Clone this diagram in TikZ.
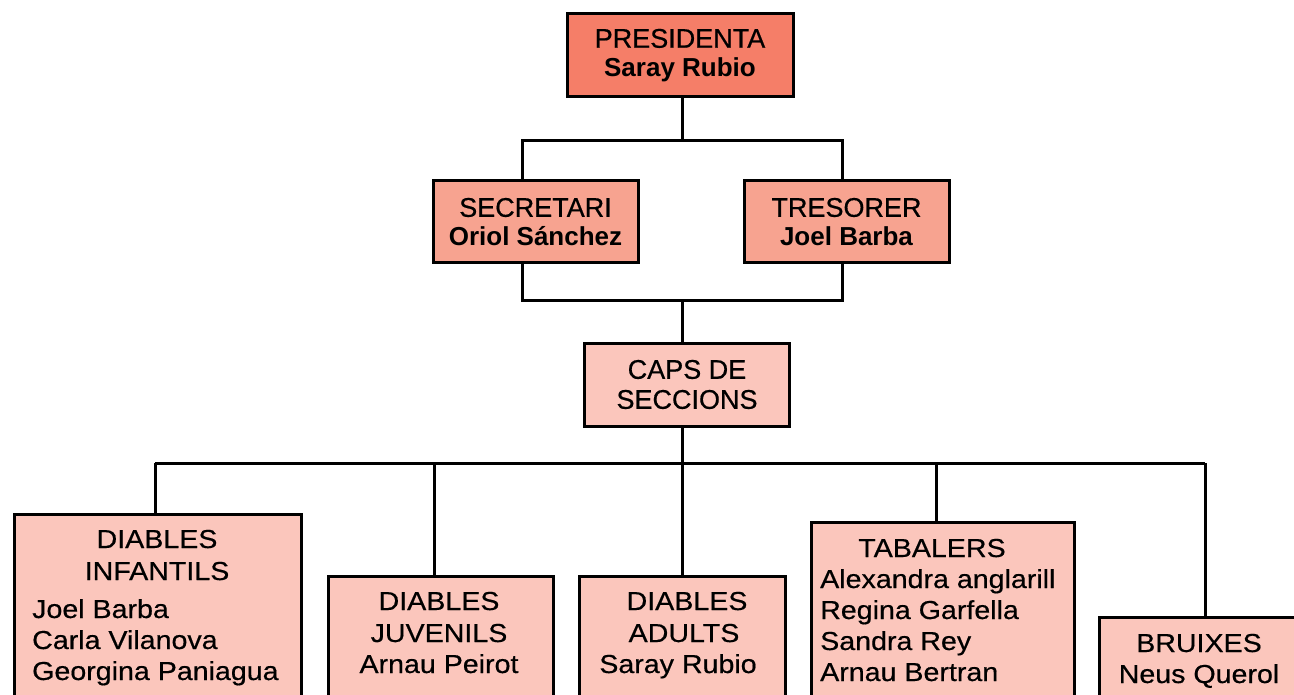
\documentclass[tikz,border=0pt]{standalone}
\usepackage{fontspec}
\setmainfont{Liberation Sans}
\newfontfamily\topfont[FakeBold=0.5]{Liberation Sans}
\newfontfamily\widefont[FakeStretch=1.1,FakeBold=0.5]{Liberation Sans}
\definecolor{cpres}{RGB}{245,126,104}
\definecolor{csec}{RGB}{247,163,144}
\definecolor{clow}{RGB}{251,198,188}
\begin{document}
\begin{tikzpicture}[x=1pt,y=-1pt,
  box/.style={draw=black,line width=3pt,rectangle,inner sep=0pt,align=center},
  toptxt/.style={font=\topfont\fontsize{27}{30}\selectfont},
  lowtxt/.style={font=\widefont\fontsize{26}{31}\selectfont,inner sep=0pt},
  conn/.style={draw=black,line width=3pt}]
\clip (0,0) rectangle (1294,695);
\fill[white] (0,0) rectangle (1294,695);
% top boxes
\node[box,fill=cpres,minimum width=226pt,minimum height=83pt,toptxt] (pres) at (680,55.5)
  {PRESIDENTA\\[-1pt]{\normalfont\fontsize{26}{30}\selectfont\bfseries Saray Rubio}};
\node[box,fill=csec,minimum width=205pt,minimum height=82pt,toptxt] (sec) at (535.5,222)
  {SECRETARI\\[-1pt]{\normalfont\fontsize{26}{30}\selectfont\bfseries Oriol Sánchez}};
\node[box,fill=csec,minimum width=205pt,minimum height=82pt,toptxt] (tre) at (846.5,222)
  {TRESORER\\[-1pt]{\normalfont\fontsize{26}{30}\selectfont\bfseries Joel Barba}};
\node[box,fill=clow,minimum width=205pt,minimum height=83pt,toptxt] (caps) at (687,384.5)
  {CAPS DE\\SECCIONS};
% bottom boxes (cut off by the lower edge)
\node[box,fill=clow,minimum width=287pt,minimum height=250pt,anchor=north west] (inf) at (13,513) {};
\node[box,fill=clow,minimum width=225pt,minimum height=200pt,anchor=north west] (juv) at (327,575) {};
\node[box,fill=clow,minimum width=206pt,minimum height=200pt,anchor=north west] (adu) at (578,575) {};
\node[box,fill=clow,minimum width=263pt,minimum height=250pt,anchor=north west] (tab) at (810,521) {};
\node[box,fill=clow,minimum width=230pt,minimum height=200pt,anchor=north west] (bru) at (1098,616) {};
% bottom texts
\node[lowtxt,anchor=base] (inf1) at (157,548) {DIABLES};
\node[lowtxt,anchor=base] (inf2) at (157,580) {INFANTILS};
\node[lowtxt,anchor=base west] (inf3) at (32,618) {Joel Barba};
\node[lowtxt,anchor=base west] (inf4) at (32,649) {Carla Vilanova};
\node[lowtxt,anchor=base west] (inf5) at (32,680) {Georgina Paniagua};
\node[lowtxt,anchor=base] (juv1) at (439,610) {DIABLES};
\node[lowtxt,anchor=base] (juv2) at (439,642) {JUVENILS};
\node[lowtxt,anchor=base] (juv3) at (439,673) {Arnau Peirot};
\node[lowtxt,anchor=base] (adu1) at (687,610) {DIABLES};
\node[lowtxt,anchor=base] (adu2) at (684,642) {ADULTS};
\node[lowtxt,anchor=base] (adu3) at (678,673) {Saray Rubio};
\node[lowtxt,anchor=base] (tab1) at (932,557) {TABALERS};
\node[lowtxt,anchor=base west] (tab2) at (820,588) {Alexandra anglarill};
\node[lowtxt,anchor=base west] (tab3) at (820,619) {Regina Garfella};
\node[lowtxt,anchor=base west] (tab4) at (820,650) {Sandra Rey};
\node[lowtxt,anchor=base west] (tab5) at (820,681) {Arnau Bertran};
\node[lowtxt,anchor=base] (bru1) at (1199,652) {BRUIXES};
\node[lowtxt,anchor=base] (bru2) at (1199,683) {Neus Querol};
% connector points
\coordinate (p1) at (682,141);
\coordinate (p1l) at (522,141);
\coordinate (p1r) at (842,141);
\coordinate (p2) at (682,301);
\coordinate (p2l) at (522,301);
\coordinate (p2r) at (842,301);
\coordinate (p3) at (682,463);
\coordinate (p3l) at (155,463);
\coordinate (p3r) at (1205,463);
\coordinate (c2) at (434,463);
\coordinate (c4) at (936,463);
% connectors
\draw[conn] (pres.south -| p1) -- (p1);
\draw[conn] (sec.north -| p1l) -- (p1l) -- (p1r) -- (tre.north -| p1r);
\draw[conn] (sec.south -| p2l) -- (p2l) -- (p2r) -- (tre.south -| p2r);
\draw[conn] (p2) -- (caps.north -| p2);
\draw[conn] (caps.south -| p3) -- (p3);
\draw[conn] (p3l) -- (p3r);
\draw[conn] (p3l) -- (inf.north -| p3l);
\draw[conn] (c2) -- (juv.north -| c2);
\draw[conn] (p3) -- (adu.north -| p3);
\draw[conn] (c4) -- (tab.north -| c4);
\draw[conn] (p3r) -- (bru.north -| p3r);
\end{tikzpicture}
\end{document}
